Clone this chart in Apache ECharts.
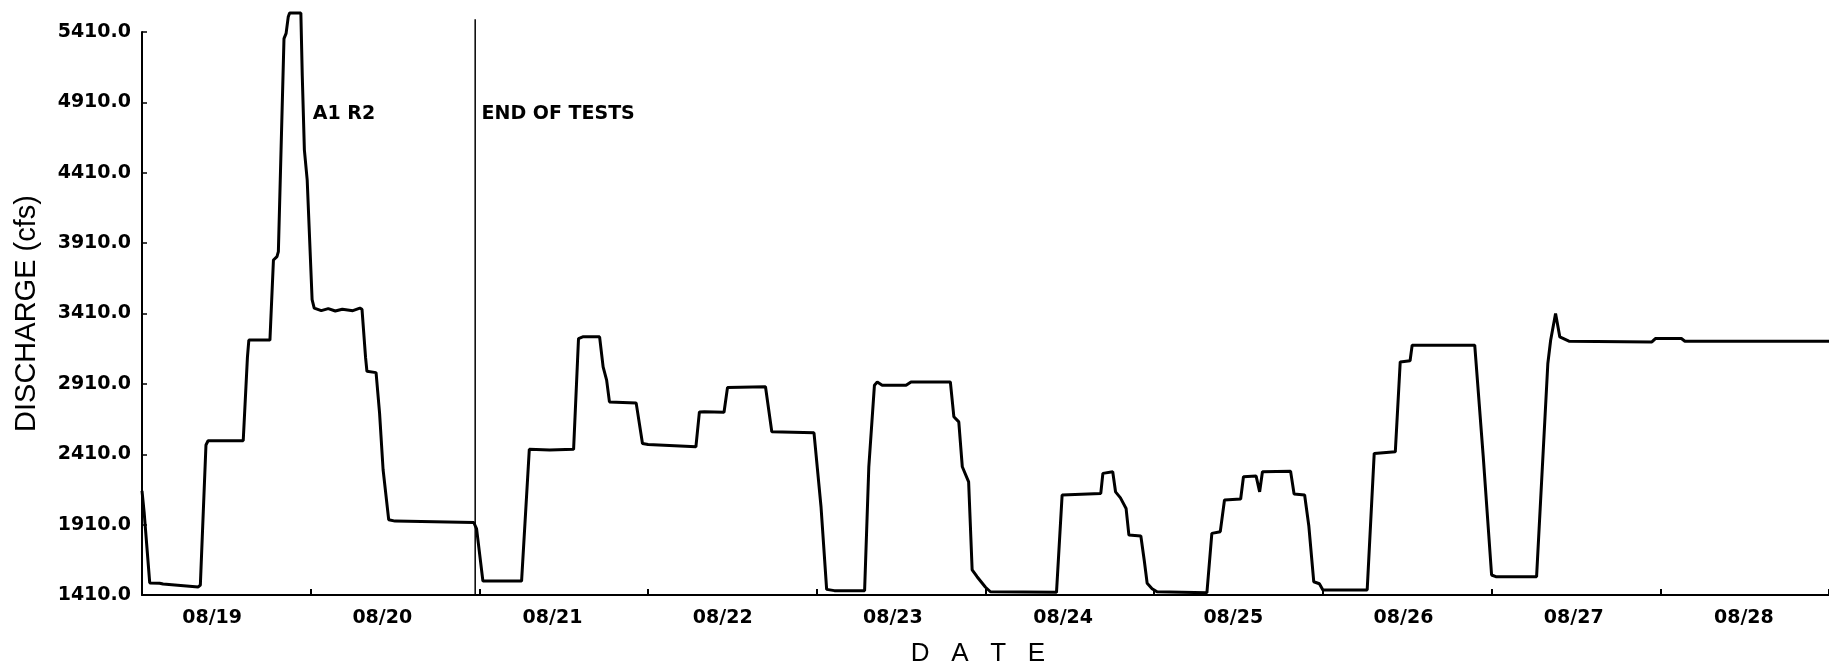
<!DOCTYPE html>
<html>
<head>
<meta charset="utf-8">
<title>Discharge 08/19 – 08/28</title>
<script src="https://cdn.jsdelivr.net/npm/echarts@6/dist/echarts.min.js"></script>
<style>
  html, body { margin: 0; padding: 0; background: #fff; }
  #chart { width: 1829px; height: 672px; }
</style>
</head>
<body>
<div id="chart"></div>
<script>
// Day labels along the bottom axis
const dateLabels = ['08/19', '08/20', '08/21', '08/22', '08/23', '08/24', '08/25', '08/26', '08/27', '08/28'];

// Hours elapsed since 08/19 00:00
const hours = [
  0.0, 0.3, 1.1, 2.5, 3.0, 8.0, 8.3, 9.1, 9.4, 14.4, 15.0, 15.2, 18.2, 18.7, 19.2, 19.4,
  20.2, 20.5, 20.8, 21.0, 22.6, 22.8, 23.1, 23.5, 24.2, 24.5, 25.5, 26.5, 27.5, 28.5, 30.0,
  31.0, 31.3, 31.8, 32.0, 33.3, 33.8, 34.3, 35.1, 36.0, 47.2, 47.6, 48.5, 54.0, 55.1, 58.0,
  61.4, 62.1, 62.7, 65.1, 65.6, 66.1, 66.5, 70.3, 71.2, 72.0, 78.8, 79.3, 80.0, 82.8, 83.3,
  88.7, 89.6, 95.6, 96.6, 97.4, 98.5, 102.8, 103.4, 104.2, 104.6, 105.3, 108.7, 109.4, 115.0,
  115.5, 116.2, 116.7, 117.6, 118.1, 118.8, 120.0, 120.7, 130.1, 130.9, 136.4, 136.7, 138.1,
  138.5, 139.2, 140.0, 140.4, 142.1, 142.6, 143.0, 143.7, 144.4, 151.5, 152.2, 153.4, 154.0,
  156.3, 156.7, 158.5, 159.0, 159.4, 163.4, 163.9, 165.4, 166.0, 166.7, 167.5, 168.0, 174.3,
  175.3, 178.3, 179.0, 180.4, 180.7, 189.6, 190.8, 192.0, 192.6, 198.4, 200.0, 200.4, 201.1,
  201.5, 201.7, 203.0, 214.8, 215.3, 219.0, 219.5, 240.0
];

// Discharge (cfs) at each hour above
const cfs = [
  2150, 2000, 1496, 1494, 1488, 1467, 1480, 2476, 2506, 2506, 3100, 3221, 3221, 3790, 3814, 3850,
  5363, 5400, 5516, 5545, 5545, 5100, 4573, 4360, 3509, 3448, 3430, 3445, 3428, 3440, 3430,
  3448, 3440, 3100, 2999, 2990, 2700, 2300, 1944, 1935, 1925, 1880, 1509, 1509, 2445, 2440,
  2445, 3232, 3244, 3244, 3031, 2937, 2782, 2775, 2487, 2480, 2463, 2711, 2712, 2709, 2885,
  2889, 2569, 2562, 2037, 1450, 1441, 1441, 2321, 2901, 2924, 2901, 2901, 2924, 2924,
  2676, 2640, 2321, 2214, 1588, 1540, 1465, 1433, 1429, 2120, 2132, 2274, 2286,
  2143, 2100, 2025, 1836, 1829, 1650, 1493, 1455, 1433, 1426, 1848, 1860, 2085,
  2092, 2250, 2255, 2143, 2286, 2290, 2127, 2120, 1900, 1504, 1490, 1446, 1446,
  2416, 2427, 3066, 3074, 3185, 3185, 2400, 1552, 1540, 1540, 3055, 3220, 3410,
  3300, 3244, 3213, 3208, 3232, 3232, 3213, 3213
];

// Annotations (data coordinates: hour, cfs)
const noteTexts = ['A1 R2', 'END OF TESTS'];
const noteHours = [24.3, 48.3];
const noteCfs = [4825, 4825];

// Vertical marker at the end of the test period
const endOfTestsHours = [47.4, 47.4];
const endOfTestsCfs = [1410, 5500];

const chart = echarts.init(document.getElementById('chart'), null, { renderer: 'canvas' });

const tickFont = { color: '#000', fontFamily: 'DejaVu Sans', fontWeight: 'bold', fontSize: 19 };

chart.setOption({
  animation: false,
  backgroundColor: '#fff',
  grid: [
    // plotting area
    { left: 142, right: -13, top: 32, bottom: 77 },
    // band carrying the day labels
    { left: 127, right: -19, top: 32, bottom: 77 }
  ],
  xAxis: [
    {
      type: 'value',
      gridIndex: 0,
      position: 'bottom',
      min: 0,
      max: 240,
      interval: 24,
      axisLine: { show: true, lineStyle: { color: '#000', width: 2 } },
      axisTick: { show: true, inside: true, length: 6, lineStyle: { color: '#000', width: 2 } },
      axisLabel: { show: false },
      splitLine: { show: false }
    },
    {
      type: 'category',
      gridIndex: 1,
      position: 'bottom',
      data: dateLabels,
      boundaryGap: true,
      axisLine: { show: false },
      axisTick: { show: false },
      axisLabel: Object.assign({ margin: 18 }, tickFont),
      splitLine: { show: false },
      name: 'D   A   T   E',
      nameLocation: 'middle',
      nameGap: 50,
      nameTextStyle: { color: '#000', fontFamily: 'Liberation Sans', fontSize: 26 }
    }
  ],
  yAxis: [
    {
      type: 'value',
      gridIndex: 0,
      min: 1410,
      max: 5410,
      interval: 500,
      axisLine: { show: true, lineStyle: { color: '#000', width: 2 } },
      axisTick: { show: true, inside: true, length: 5, lineStyle: { color: '#000', width: 1.5 } },
      axisLabel: Object.assign({ margin: 11, formatter: v => v.toFixed(1) }, tickFont),
      splitLine: { show: false },
      name: 'DISCHARGE (cfs)',
      nameLocation: 'middle',
      nameGap: 101,
      nameTextStyle: { color: '#000', fontFamily: 'Liberation Sans', fontSize: 29 }
    },
    {
      type: 'value',
      gridIndex: 1,
      show: false
    }
  ],
  series: [
    {
      name: 'Discharge',
      type: 'line',
      xAxisIndex: 0,
      yAxisIndex: 0,
      data: hours.map((h, i) => [h, cfs[i]]),
      showSymbol: false,
      clip: false,
      silent: true,
      lineStyle: { color: '#000', width: 3 }
    },
    {
      name: 'End of tests',
      type: 'line',
      xAxisIndex: 0,
      yAxisIndex: 0,
      data: endOfTestsHours.map((h, i) => [h, endOfTestsCfs[i]]),
      showSymbol: false,
      clip: false,
      silent: true,
      lineStyle: { color: '#000', width: 1.5 }
    },
    {
      name: 'Notes',
      type: 'scatter',
      xAxisIndex: 0,
      yAxisIndex: 0,
      symbolSize: 0,
      silent: true,
      itemStyle: { opacity: 1, color: '#000' },
      data: noteTexts.map((t, i) => ({ name: t, value: [noteHours[i], noteCfs[i]] })),
      label: {
        show: true,
        position: 'right',
        distance: 0,
        formatter: p => p.name,
        color: '#000',
        opacity: 1,
        fontFamily: 'DejaVu Sans',
        fontWeight: 'bold',
        fontSize: 19
      }
    }
  ]
});
</script>
</body>
</html>
